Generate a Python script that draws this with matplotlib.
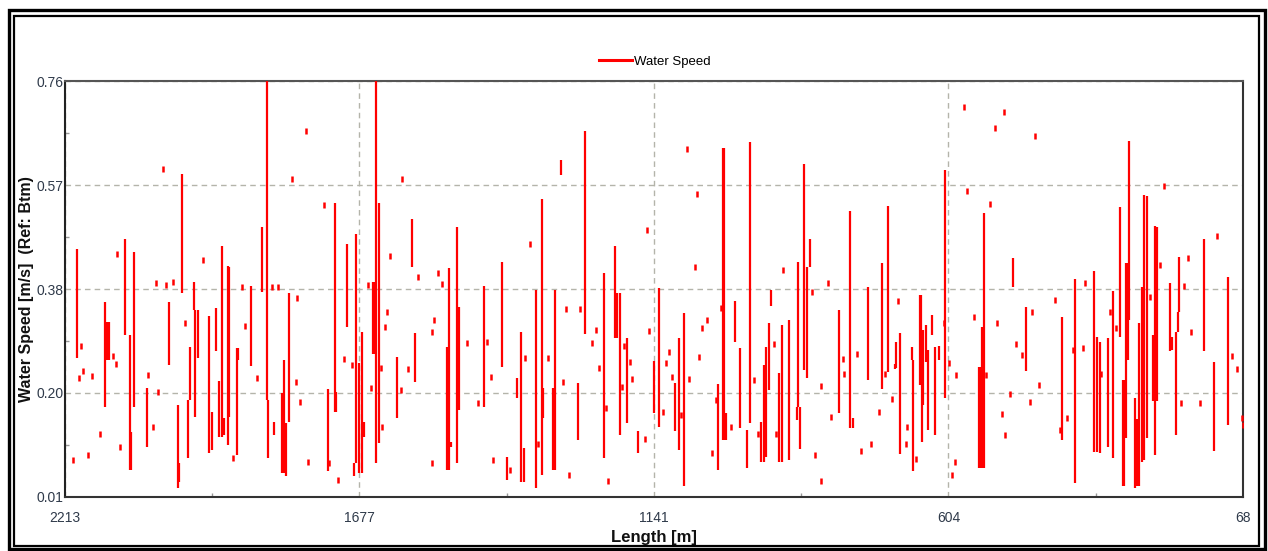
import matplotlib

matplotlib.use("Agg")
import matplotlib.pyplot as plt
from matplotlib.patches import Rectangle
from matplotlib.ticker import FixedLocator

# ── Data ─────────────────────────────────────────────────────────────
# vertical runs of the speed trace: length [m], low and high speed [m/s]
bar_len = [
    2192, 2141, 2137, 2132, 2104, 2095, 2093, 2087, 2064, 2023, 2008, 2005,
    2000, 1989, 1985, 1979, 1976, 1971, 1951, 1946, 1938, 1932, 1928, 1924,
    1917, 1914, 1900, 1898, 1874,
    1855, 1846, 1844, 1832, 1817, 1814, 1811, 1806, 1734, 1722, 1720, 1700,
    1687, 1683, 1677, 1672, 1669, 1652, 1650, 1646, 1642, 1609, 1582, 1576,
    1517, 1514, 1510, 1500, 1495,
    1450, 1418, 1409, 1390, 1382, 1378, 1356, 1345, 1342, 1325, 1321, 1310,
    1279, 1266, 1232, 1212, 1207, 1203, 1189, 1169, 1140, 1132,
    1102, 1095, 1085, 1024, 1015, 1013, 1010, 993, 984, 971, 966, 945, 941,
    936, 931, 927, 913, 908, 894, 881, 879, 874, 867, 862, 857, 804, 783, 778,
    751, 726, 714, 702, 699, 692, 671, 668, 656, 654, 653, 650, 646, 641, 635,
    628, 622, 610, 549, 546, 544, 540, 487, 463,
    398, 374, 340, 334, 329, 313, 304, 292, 287, 285, 281, 277, 275, 264, 261,
    258, 252, 248, 243, 232, 228, 225, 201, 197, 190, 187, 185, 139, 121, 96,
]
bar_lo = [
    0.261, 0.173, 0.257, 0.257, 0.302, 0.059, 0.059, 0.173, 0.101, 0.248, 0.026, 0.037,
    0.377, 0.080, 0.185, 0.347, 0.155, 0.260, 0.089, 0.095, 0.273, 0.119, 0.119, 0.122,
    0.104, 0.155, 0.086, 0.257, 0.247,
    0.380, 0.185, 0.081, 0.121, 0.053, 0.053, 0.047, 0.146, 0.056, 0.164, 0.164, 0.317,
    0.047, 0.071, 0.053, 0.053, 0.119, 0.267, 0.267, 0.071, 0.107, 0.152, 0.424, 0.217,
    0.059, 0.059, 0.101, 0.071, 0.167,
    0.173, 0.245, 0.041, 0.189, 0.037, 0.037, 0.026, 0.050, 0.152, 0.059, 0.059, 0.591,
    0.113, 0.303, 0.080, 0.297, 0.297, 0.122, 0.143, 0.089, 0.161, 0.137,
    0.129, 0.095, 0.029, 0.059, 0.113, 0.113, 0.113, 0.289, 0.135, 0.063, 0.143, 0.074, 0.074,
    0.083, 0.203, 0.355, 0.074, 0.074, 0.077, 0.149, 0.173, 0.097, 0.239, 0.224, 0.425, 0.161, 0.134, 0.134,
    0.221, 0.205, 0.236, 0.240, 0.242, 0.087, 0.257, 0.056, 0.212, 0.212, 0.110, 0.176, 0.254, 0.131, 0.302,
    0.122, 0.257, 0.188, 0.063, 0.063, 0.062, 0.062, 0.389, 0.237,
    0.113, 0.035, 0.092, 0.092, 0.089, 0.101, 0.080, 0.299, 0.029, 0.029, 0.116, 0.257, 0.329, 0.027, 0.030,
    0.029, 0.074, 0.077, 0.116, 0.183, 0.086, 0.183, 0.273, 0.275, 0.121, 0.308, 0.344, 0.273, 0.093, 0.139,
]
bar_hi = [
    0.458, 0.362, 0.326, 0.326, 0.475, 0.302, 0.128, 0.452, 0.206, 0.362, 0.176, 0.071,
    0.593, 0.185, 0.281, 0.398, 0.347, 0.347, 0.337, 0.164, 0.350, 0.219, 0.463, 0.152,
    0.427, 0.425, 0.278, 0.278, 0.391,
    0.497, 0.760, 0.185, 0.146, 0.197, 0.257, 0.143, 0.377, 0.205, 0.540, 0.200, 0.467,
    0.071, 0.484, 0.251, 0.307, 0.146, 0.397, 0.397, 0.760, 0.540, 0.263, 0.511, 0.305,
    0.281, 0.422, 0.110, 0.497, 0.353,
    0.391, 0.433, 0.083, 0.224, 0.308, 0.098, 0.383, 0.547, 0.206, 0.206, 0.383, 0.618,
    0.215, 0.669, 0.413, 0.463, 0.377, 0.377, 0.296, 0.129, 0.255, 0.386,
    0.215, 0.296, 0.341, 0.213, 0.640, 0.640, 0.161, 0.363, 0.279, 0.131, 0.650, 0.146, 0.248,
    0.281, 0.323, 0.383, 0.233, 0.320, 0.329, 0.173, 0.434, 0.173, 0.610, 0.425, 0.475, 0.347, 0.526, 0.152,
    0.389, 0.431, 0.535, 0.250, 0.290, 0.305, 0.281, 0.257, 0.374, 0.374, 0.212, 0.311, 0.320, 0.275, 0.338,
    0.281, 0.282, 0.600, 0.245, 0.245, 0.317, 0.522, 0.440, 0.353,
    0.335, 0.403, 0.418, 0.299, 0.290, 0.296, 0.381, 0.532, 0.221, 0.221, 0.431, 0.431, 0.651, 0.188, 0.150,
    0.323, 0.389, 0.555, 0.552, 0.302, 0.499, 0.497, 0.395, 0.299, 0.308, 0.344, 0.442, 0.475, 0.254, 0.407,
]

# isolated single readings
dot_len = [
    2198, 2188, 2183, 2181, 2171, 2164, 2149, 2126, 2120, 2118, 2113, 2061, 2052,
    2047, 2044, 2034, 2029, 2017, 1995, 1961, 1908, 1891, 1885, 1864,
    1836, 1826, 1800, 1792, 1790, 1785, 1775, 1771, 1741, 1732, 1715, 1705, 1691,
    1661, 1656, 1638, 1635, 1630, 1626, 1621, 1602, 1599, 1588, 1570, 1545, 1544,
    1541, 1534, 1527,
    1481, 1461, 1445, 1437, 1434, 1402, 1375, 1367, 1352, 1333, 1307, 1300, 1295,
    1275, 1254, 1246, 1241, 1228, 1224, 1198, 1195, 1184, 1181, 1156, 1154, 1149,
    1125, 1119, 1114, 1108, 1091, 1080, 1077, 1066, 1063, 1058, 1054, 1044, 1034,
    1028, 1018, 1000, 959, 951, 922, 918, 905, 852, 848, 836, 837, 823, 819, 797,
    795, 771,
    763, 746, 731, 719, 707, 697, 682, 680, 664, 613, 604, 598, 593, 590, 576, 571,
    557, 536, 528, 519, 516, 506, 504, 502, 492, 482, 471, 455, 453, 446, 439, 410, 402,
    388, 378, 360, 355, 326, 311, 299, 238, 219, 212, 180, 175, 168, 163, 146, 115,
    88, 79, 70, 68,
]
dot_speed = [
    0.077, 0.225, 0.283, 0.237, 0.086, 0.228, 0.124, 0.265, 0.249, 0.448, 0.101, 0.230, 0.137,
    0.395, 0.199, 0.601, 0.392, 0.397, 0.323, 0.437, 0.081, 0.389, 0.319, 0.224,
    0.389, 0.388, 0.583, 0.218, 0.368, 0.182, 0.670, 0.074, 0.537, 0.071, 0.041, 0.259, 0.248,
    0.392, 0.206, 0.242, 0.137, 0.316, 0.344, 0.445, 0.203, 0.583, 0.240, 0.407, 0.307, 0.072,
    0.329, 0.413, 0.394,
    0.287, 0.179, 0.290, 0.227, 0.077, 0.059, 0.260, 0.467, 0.105, 0.261, 0.218, 0.349, 0.050,
    0.349, 0.287, 0.311, 0.243, 0.170, 0.038, 0.209, 0.283, 0.253, 0.223, 0.115, 0.491, 0.309,
    0.163, 0.251, 0.271, 0.227, 0.158, 0.637, 0.223, 0.424, 0.556, 0.263, 0.315, 0.329, 0.089,
    0.185, 0.350, 0.137, 0.221, 0.124, 0.285, 0.124, 0.419, 0.380, 0.086, 0.211, 0.038, 0.395, 0.155, 0.259,
    0.231, 0.267,
    0.093, 0.105, 0.163, 0.232, 0.187, 0.363, 0.105, 0.137, 0.079, 0.323, 0.251, 0.050, 0.074, 0.230, 0.714, 0.562,
    0.335, 0.230, 0.539, 0.675, 0.323, 0.159, 0.704, 0.122, 0.195, 0.285, 0.266, 0.182, 0.344, 0.660, 0.212, 0.365, 0.131,
    0.152, 0.275, 0.278, 0.395, 0.231, 0.344, 0.314, 0.371, 0.428, 0.570, 0.179, 0.391, 0.440, 0.308, 0.179, 0.481,
    0.265, 0.241, 0.153, 0.139,
]

x_ticks = [2213, 1676.75, 1140.5, 604.25, 68]
x_labels = ["2213", "1677", "1141", "604", "68"]
y_ticks = [0.01, 0.1975, 0.385, 0.5725, 0.76]
y_labels = ["0.01", "0.20", "0.38", "0.57", "0.76"]

RED = "#ff0000"
GRID = "#b4b4aa"
TICK = "#2f3a4a"

plt.rcParams.update({
    "font.family": ["Liberation Sans", "DejaVu Sans"],
    "font.size": 10,
})

fig = plt.figure(figsize=(12.68, 5.51), dpi=100)
ax = fig.add_axes([65 / 1268, 1 - 497 / 551, 1178 / 1268, 416 / 551])

ax.vlines(bar_len, bar_lo, bar_hi, color=RED, linewidth=1.6, zorder=3)
ax.plot(dot_len, dot_speed, linestyle="none", marker="|", markersize=3.8,
        markeredgewidth=1.8, color=RED, zorder=3)

ax.set_xlim(2213, 68)
ax.set_ylim(0.01, 0.76)
ax.set_xticks(x_ticks)
ax.set_xticklabels(x_labels)
ax.set_yticks(y_ticks)
ax.set_yticklabels(y_labels)
ax.xaxis.set_minor_locator(FixedLocator(
    [(a + b) / 2 for a, b in zip(x_ticks[:-1], x_ticks[1:])]))
ax.yaxis.set_minor_locator(FixedLocator(
    [(a + b) / 2 for a, b in zip(y_ticks[:-1], y_ticks[1:])]))
ax.tick_params(which="major", length=0, labelsize=10, labelcolor=TICK)
ax.tick_params(axis="x", which="major", pad=10)
ax.tick_params(axis="y", which="major", pad=1)
ax.tick_params(which="minor", length=3, direction="in", color="#999999", width=1)

ax.grid(True, which="major", linestyle=(0, (4, 3)), color=GRID, linewidth=1, zorder=1)
ax.set_axisbelow(True)

for side, col in (("left", "#222222"), ("bottom", "#333333"),
                  ("top", "#555555"), ("right", "#333333")):
    ax.spines[side].set_color(col)
    ax.spines[side].set_linewidth(1.5)

ax.set_xlabel("Length [m]", fontsize=12, fontweight="bold", color="#111111", labelpad=4)
ax.set_ylabel("Water Speed [m/s]  (Ref: Btm)", fontsize=11.5, fontweight="bold",
              color="#111111", va="center")
ax.yaxis.set_label_coords(-38 / 1178, 0.5)

handle, = ax.plot([], [], color=RED, linewidth=2.2)
fig.legend([handle], ["Water Speed"], loc="center",
           bbox_to_anchor=(655 / 1268, 1 - 62 / 551), frameon=False,
           fontsize=9.5, handlelength=2.5, handletextpad=0.2)

# double border around the whole picture
fig.patches.append(Rectangle((8.5 / 1268, 2 / 551), 1256 / 1268, 539 / 551,
                             transform=fig.transFigure, fill=False,
                             edgecolor="black", linewidth=2.4))
fig.patches.append(Rectangle((14 / 1268, 5 / 551), 1245 / 1268, 530 / 551,
                             transform=fig.transFigure, fill=False,
                             edgecolor="black", linewidth=1.6))

fig.savefig("out.png", dpi=100, facecolor="white")
